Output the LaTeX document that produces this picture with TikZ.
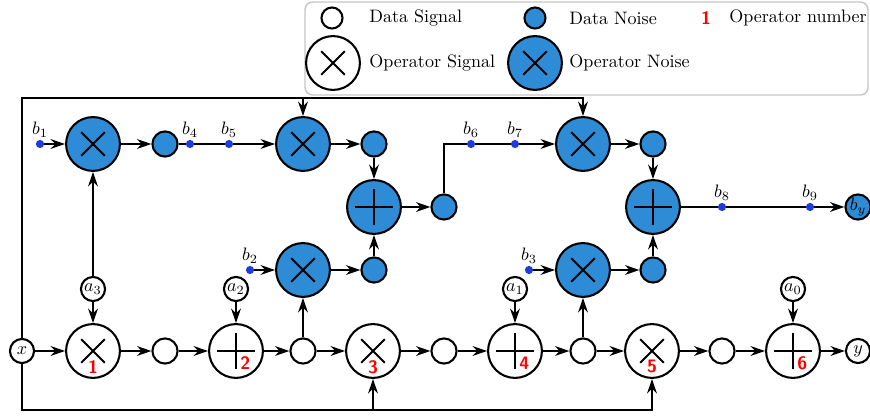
\documentclass[tikz,border=0pt]{standalone}
\usetikzlibrary{arrows.meta}
\definecolor{noiseBlue}{RGB}{46,139,214}
\definecolor{dotBlue}{RGB}{30,60,220}

\begin{document}
\begin{tikzpicture}[%%
  x=0.0195cm,y=-0.0195cm,%%
  >={Stealth[length=2.8mm,width=1.9mm,inset=0.9mm]},%%
  arrowStyle/.style={->,line width=1.15pt},%%
  lineStyle/.style={-,line width=1.15pt},%%
  dataSignal/.style={circle,draw,line width=1.15pt,fill=white,minimum size=0.49cm,inner sep=0pt},%%
  dataNoise/.style={dataSignal,fill=noiseBlue},%%
  coefStyle/.style={dataSignal,minimum size=0.47cm},%%
  opSignal/.style={circle,draw,line width=1.15pt,fill=white,minimum size=1.05cm,inner sep=0pt},%%
  opNoise/.style={opSignal,fill=noiseBlue},%%
  mulMark/.style={path picture={\draw[line width=1.1pt] (path picture bounding box.center)
    +(-0.23cm,-0.23cm) -- +(0.23cm,0.23cm) +(-0.23cm,0.23cm) -- +(0.23cm,-0.23cm);}},%%
  sumMark/.style={path picture={\draw[line width=1.1pt] (path picture bounding box.center)
    +(-0.37cm,0) -- +(0.37cm,0) +(0,-0.36cm) -- +(0,0.36cm);}},%%
  dotStyle/.style={circle,fill=dotBlue,minimum size=0.16cm,inner sep=0pt},%%
  dotLabel/.style={inner sep=1pt},%%
  numLabel/.style={text=red,font=\sffamily\bfseries,inner sep=0pt},%%
  legendText/.style={anchor=west,inner sep=0pt}
]
\useasboundingbox (0,0) rectangle (870,416);
%%
%%
\pgfmathsetmacro{\yTop}{98}
\pgfmathsetmacro{\yN}{144}
\pgfmathsetmacro{\yM}{207}
\pgfmathsetmacro{\yL}{270}
\pgfmathsetmacro{\yA}{289}
\pgfmathsetmacro{\yS}{351}
\pgfmathsetmacro{\yBot}{410}
\coordinate (top) at (0,\yTop);
\coordinate (bot) at (0,\yBot);
%%
%%
%% Legend.
\draw[gray!45,line width=0.8pt,rounded corners=0.15cm] (305,2) rectangle (868,95);
\node[dataSignal,minimum size=0.41cm] (lgDS) at (332,18) {};
\node[legendText] (lgDSt) at (369,18) {Data Signal};
\node[dataNoise,minimum size=0.41cm] (lgDN) at (535,18) {};
\node[legendText] (lgDNt) at (569,18) {Data Noise};
\node[numLabel] (lgNum) at (706,18) {1};
\node[legendText] (lgNumt) at (729,18) {Operator number};
\node[opSignal,mulMark] (lgOS) at (333,63) {};
\node[legendText] (lgOSt) at (369,63) {Operator Signal};
\node[opNoise,mulMark] (lgON) at (535,63) {};
\node[legendText] (lgONt) at (569,63) {Operator Noise};
%%
%%
%% Signal path.
\node[coefStyle] (x) at (22,\yS) {$x$};
\node[opSignal,mulMark] (op1) at (93,\yS) {};
\node[dataSignal] (d1) at (165,\yS) {};
\node[opSignal,sumMark] (op2) at (236,\yS) {};
\node[dataSignal] (d2) at (303,\yS) {};
\node[opSignal,mulMark] (op3) at (373,\yS) {};
\node[dataSignal] (d3) at (444,\yS) {};
\node[opSignal,sumMark] (op4) at (515,\yS) {};
\node[dataSignal] (d4) at (583,\yS) {};
\node[opSignal,mulMark] (op5) at (652,\yS) {};
\node[dataSignal] (d5) at (722,\yS) {};
\node[opSignal,sumMark] (op6) at (793,\yS) {};
\node[coefStyle] (y) at (858,\yS) {$y$};
%% Operator numbers.
\node[numLabel] at ([yshift=-0.31cm]op1) {1};
\node[numLabel] at ([shift={(0.18cm,-0.23cm)}]op2) {2};
\node[numLabel] at ([yshift=-0.31cm]op3) {3};
\node[numLabel] at ([shift={(0.18cm,-0.23cm)}]op4) {4};
\node[numLabel] at ([yshift=-0.31cm]op5) {5};
\node[numLabel] at ([shift={(0.18cm,-0.23cm)}]op6) {6};
%% Coefficients.
\node[coefStyle] (a3) at (93,\yA) {$a_3$};
\node[coefStyle] (a2) at (236,\yA) {$a_2$};
\node[coefStyle] (a1) at (515,\yA) {$a_1$};
\node[coefStyle] (a0) at (793,\yA) {$a_0$};
%%
%%
%% Noise path.
\node[opNoise,mulMark] (mn1) at (93,\yN) {};
\node[dataNoise] (n1) at (165,\yN) {};
\node[opNoise,mulMark] (mn2) at (303,\yN) {};
\node[dataNoise] (n2) at (374,\yN) {};
\node[opNoise,sumMark] (sn1) at (374,\yM) {};
\node[dataNoise] (n3) at (444,\yM) {};
\node[opNoise,mulMark] (mn3) at (303,\yL) {};
\node[dataNoise] (n4) at (374,\yL) {};
\node[opNoise,mulMark] (mn4) at (583,\yN) {};
\node[dataNoise] (n5) at (653,\yN) {};
\node[opNoise,sumMark] (sn2) at (653,\yM) {};
\node[opNoise,mulMark] (mn5) at (583,\yL) {};
\node[dataNoise] (n6) at (653,\yL) {};
\node[dataNoise] (by) at (858,\yM) {$b_y$};
%%
%%
%% Signal connectors.
\draw[arrowStyle] (x) -- (op1);
\draw[arrowStyle] (op1) -- (d1);
\draw[arrowStyle] (d1) -- (op2);
\draw[arrowStyle] (op2) -- (d2);
\draw[arrowStyle] (d2) -- (op3);
\draw[arrowStyle] (op3) -- (d3);
\draw[arrowStyle] (d3) -- (op4);
\draw[arrowStyle] (op4) -- (d4);
\draw[arrowStyle] (d4) -- (op5);
\draw[arrowStyle] (op5) -- (d5);
\draw[arrowStyle] (d5) -- (op6);
\draw[arrowStyle] (op6) -- (y);
\draw[arrowStyle] (a3) -- (op1);
\draw[arrowStyle] (a2) -- (op2);
\draw[arrowStyle] (a1) -- (op4);
\draw[arrowStyle] (a0) -- (op6);
%% Feed of x over the top and along the bottom.
\draw[arrowStyle] (x) |- (top -| mn4) -- (mn4);
\draw[arrowStyle] (top -| mn2) -- (mn2);
\draw[arrowStyle] (x) |- (bot -| op5) -- (op5);
\draw[arrowStyle] (bot -| op3) -- (op3);
%% Noise connectors.
\draw[arrowStyle] (a3) -- (mn1);
\draw[arrowStyle] (mn1) -- (n1);
\draw[arrowStyle] (n1) -- (mn2);
\draw[arrowStyle] (mn2) -- (n2);
\draw[arrowStyle] (n2) -- (sn1);
\draw[arrowStyle] (d2) -- (mn3);
\draw[arrowStyle] (mn3) -- (n4);
\draw[arrowStyle] (n4) -- (sn1);
\draw[arrowStyle] (sn1) -- (n3);
\draw[arrowStyle] (n3) |- (mn4);
\draw[arrowStyle] (mn4) -- (n5);
\draw[arrowStyle] (n5) -- (sn2);
\draw[arrowStyle] (d4) -- (mn5);
\draw[arrowStyle] (mn5) -- (n6);
\draw[arrowStyle] (n6) -- (sn2);
\draw[arrowStyle] (sn2) -- (by);
%%
%%
%% Noise sources.
\node[dotStyle,label={[dotLabel]above:$b_1$}] (b1) at (40,\yN) {};
\node[dotStyle,label={[dotLabel]above:$b_2$}] (b2) at (250,\yL) {};
\node[dotStyle,label={[dotLabel]above:$b_3$}] (b3) at (529,\yL) {};
\node[dotStyle,label={[dotLabel]above:$b_4$}] (b4) at (190,\yN) {};
\node[dotStyle,label={[dotLabel]above:$b_5$}] (b5) at (229,\yN) {};
\node[dotStyle,label={[dotLabel]above:$b_6$}] (b6) at (471,\yN) {};
\node[dotStyle,label={[dotLabel]above:$b_7$}] (b7) at (515,\yN) {};
\node[dotStyle,label={[dotLabel]above:$b_8$}] (b8) at (722,\yM) {};
\node[dotStyle,label={[dotLabel]above:$b_9$}] (b9) at (810,\yM) {};
\draw[arrowStyle] (b1) -- (mn1);
\draw[arrowStyle] (b2) -- (mn3);
\draw[arrowStyle] (b3) -- (mn5);
\end{tikzpicture}
\end{document}
